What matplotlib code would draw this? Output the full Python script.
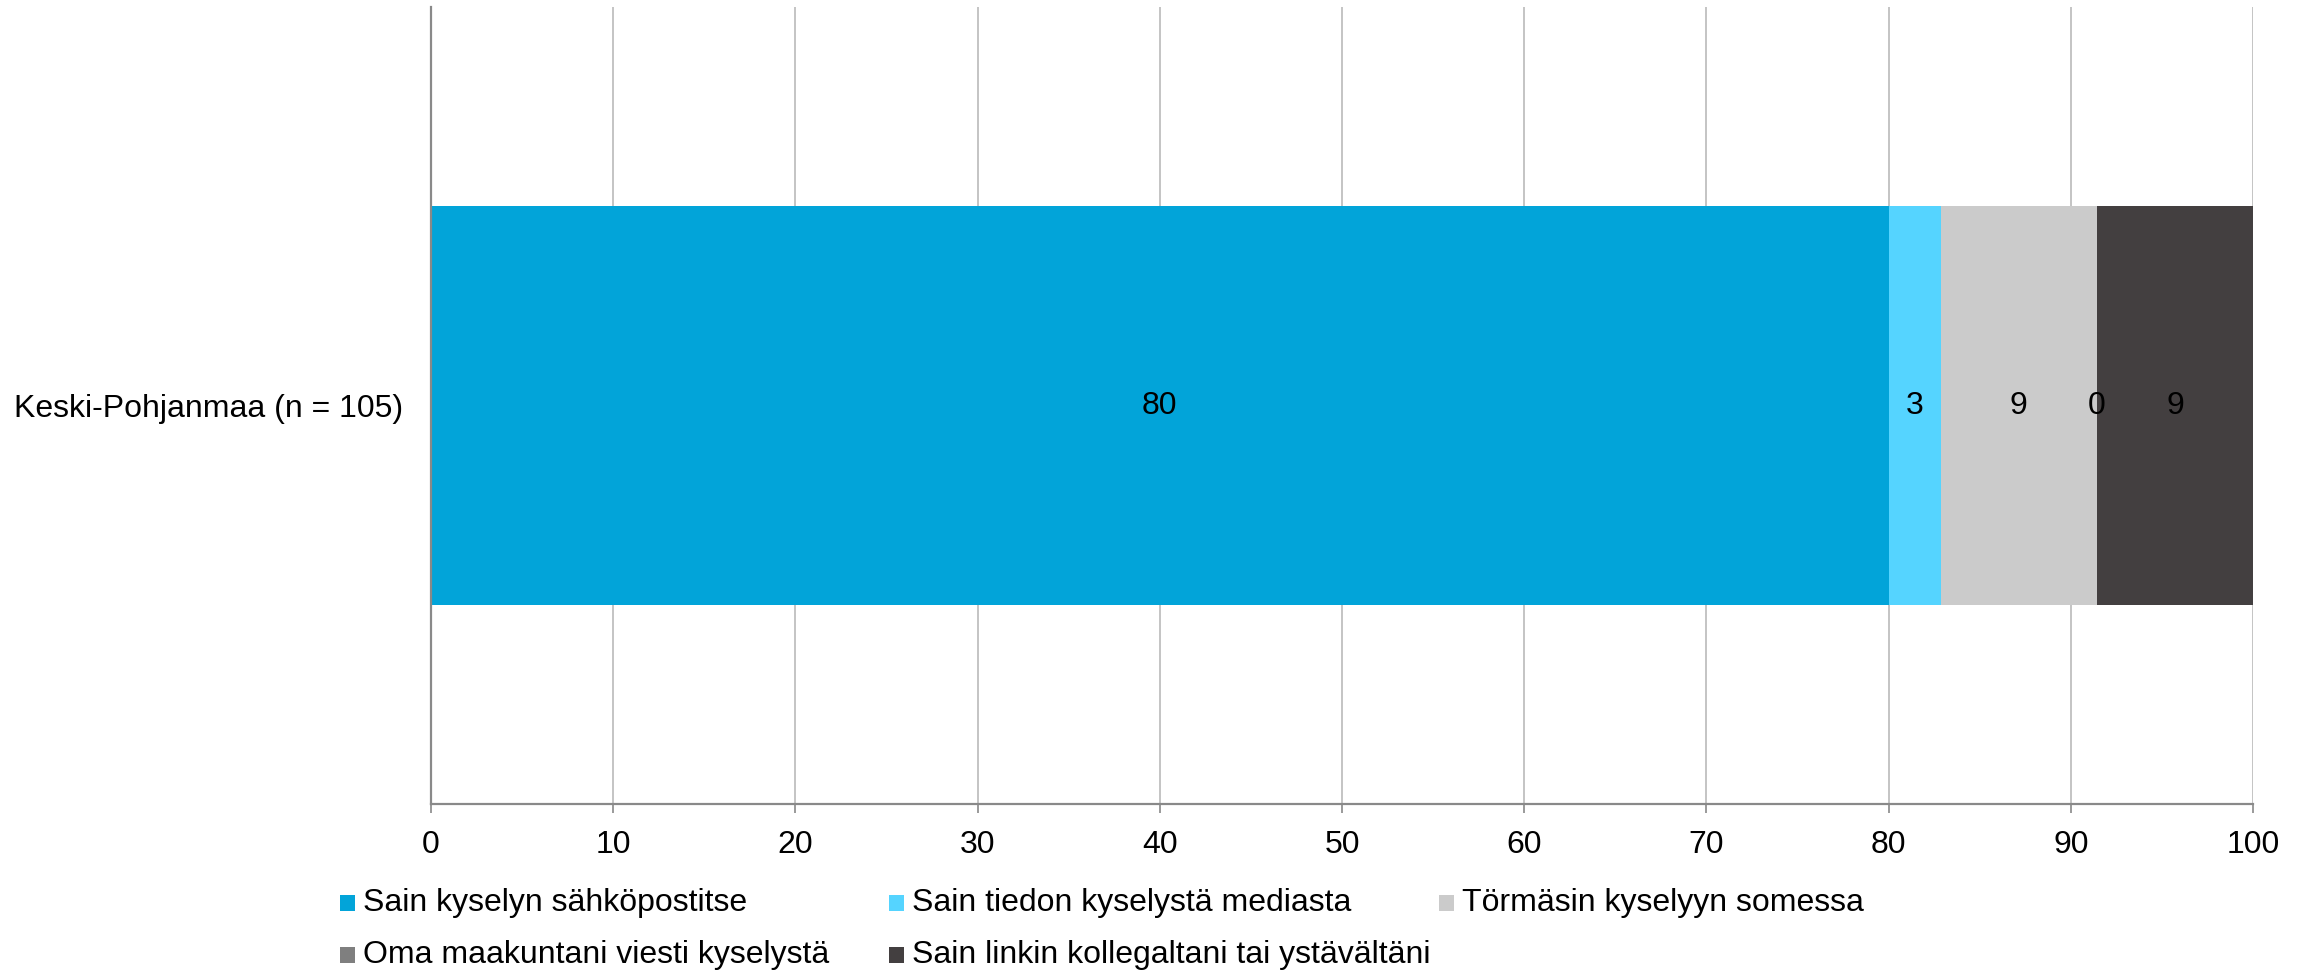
import matplotlib
matplotlib.use("Agg")
import matplotlib.pyplot as plt
from matplotlib.patches import Rectangle
import numpy as np

plt.rcParams['font.family'] = ['Liberation Sans', 'DejaVu Sans']

categories = ["Keski-Pohjanmaa (n = 105)"]
series_names = [
    "Sain kyselyn sähköpostitse",
    "Sain tiedon kyselystä mediasta",
    "Törmäsin kyselyyn somessa",
    "Oma maakuntani viesti kyselystä",
    "Sain linkin kollegaltani tai ystävältäni",
]
series_values = [80.0, 2.86, 8.57, 0.0, 8.57]
series_colors = ["#02A4D9", "#55D4FF", "#CBCBCB", "#7F7F7F", "#433F40"]
x_ticks = [0, 10, 20, 30, 40, 50, 60, 70, 80, 90, 100]

FS = 23
W, H, DPI = 2307, 974, 100
fig = plt.figure(figsize=(W / DPI, H / DPI), dpi=DPI)
ax = fig.add_axes([431 / W, 1 - 804 / H, (2253 - 431) / W, (804 - 7) / H])

left = 0.0
for name, val, col in zip(series_names, series_values, series_colors):
    ax.barh(0, val, left=left, height=0.5, color=col, edgecolor="none", zorder=3)
    ax.text(left + val / 2, 0, f"{val:.0f}", ha="center", va="center",
            fontsize=FS, color="black", zorder=4)
    left += val

ax.set_xlim(0, 100)
ax.set_ylim(-0.5, 0.5)
ax.set_xticks(x_ticks)
ax.set_xticklabels([str(t) for t in x_ticks], fontsize=FS)
ax.set_yticks([0])
ax.set_yticklabels(categories, fontsize=FS)
ax.tick_params(axis="y", length=0, pad=20)
ax.tick_params(axis="x", length=6.5, width=1.2, color="#898989", pad=12)
ax.grid(axis="x", color="#BFBFBF", linewidth=1.3, zorder=0)
for s in ["top", "right"]:
    ax.spines[s].set_visible(False)
ax.spines["bottom"].set_color("#898989")
ax.spines["bottom"].set_linewidth(1.6)
ax.spines["left"].set_color("#898989")
ax.spines["left"].set_linewidth(1.6)
ax.spines["left"].set_zorder(5)

# legend laid out on a fixed grid: three columns, two rows
col_x = [340, 889, 1439]
row_y = [903, 955]
for i, (name, col) in enumerate(zip(series_names, series_colors)):
    r, c = divmod(i, 3)
    x, y = col_x[c], row_y[r]
    fig.add_artist(Rectangle((x / W, 1 - (y + 8) / H), 15 / W, 16 / H,
                             transform=fig.transFigure, facecolor=col,
                             edgecolor="none"))
    fig.text((x + 23) / W, 1 - y / H, name, ha="left", va="center",
             fontsize=FS, color="black")

fig.savefig("out.png", dpi=DPI, facecolor="white")
